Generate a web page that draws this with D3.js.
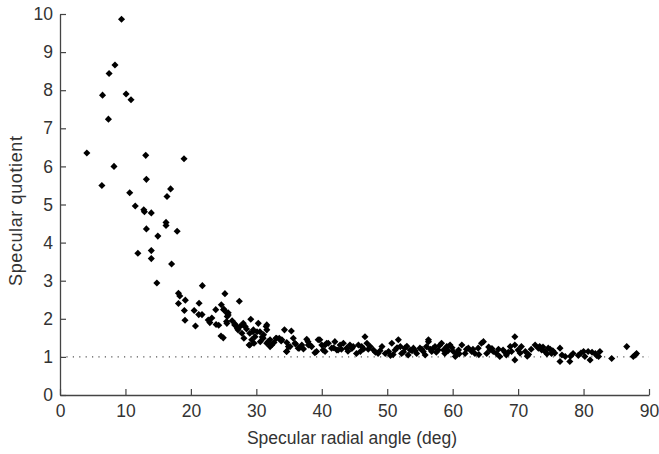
<!DOCTYPE html>
<html>
<head>
<meta charset="utf-8">
<script src="https://cdn.jsdelivr.net/npm/d3@7"></script>
<style>
  body { margin: 0; background: #fff; }
  text { font-family: "Liberation Sans", Arial, sans-serif; fill: #333; }
</style>
</head>
<body>
<svg id="chart"></svg>
<script>
// Data
var angle = [
  4.1, 6.4, 6.5, 7.4, 7.5, 8.25, 8.4, 9.4, 10.1, 10.85,
  13.1, 18.95, 13.2, 16.9, 10.65, 16.35, 11.5, 12.8, 12.9, 13.95,
  16.2, 16.2, 13.2, 17.9, 14.95, 13.95, 11.9, 13.95, 17.05, 14.8,
  21.75, 18.1, 18.3, 25.2, 19.15, 18.1, 21.25, 27.4, 24.65, 23.8,
  25.05, 25.7, 19.0, 20.5, 21.2, 21.7, 25.55, 19.1, 22.65, 22.9,
  23.85, 24.25, 20.7, 25.45, 24.6, 24.95, 26.75, 27.1, 27.5, 28.0,
  29.15, 28.5, 28.1, 29.0, 29.55, 29.8, 30.3, 30.55, 29.65, 28.9,
  31.5, 31.6, 31.05, 32.1, 31.6, 32.35, 33.0, 33.5, 34.3, 35.35,
  34.65, 34.65, 35.65, 35.9, 35.15, 36.55, 36.95, 37.7, 37.95, 38.45,
  38.95, 39.45, 40.0, 40.2, 40.75,
  25.0, 25.5, 25.7, 25.5, 26.7, 27.2, 28.0, 28.3, 29.5, 29.3,
  30.1, 30.6, 29.0, 31.6, 31.1, 31.8, 32.1, 33.1, 33.9, 34.9,
  34.6, 36.4, 37.9, 38.2, 39.2, 39.7, 40.5,
  40.5, 41.0, 41.5, 42.0, 42.3, 42.8, 43.3, 43.8, 44.3, 44.8,
  45.3, 45.6, 46.1, 46.6, 46.9, 47.4, 47.9, 48.6, 49.2, 49.7,
  50.2, 50.7, 51.2, 51.7, 52.0, 52.2, 52.7, 53.2, 53.5, 54.0,
  54.5, 55.0, 55.5, 56.0, 56.3,
  56.3, 56.8, 57.3, 57.8, 58.3, 58.8, 59.1, 59.6, 60.1, 60.4,
  60.9, 61.4, 61.9, 62.4, 62.9, 63.4, 63.9, 64.4, 64.7, 65.2,
  65.7, 66.2, 66.7, 67.2, 67.7, 68.2, 68.8, 69.0, 69.5, 69.5,
  70.0, 70.5, 69.5, 71.1,
  72.6, 73.1, 73.6, 74.1, 74.6, 75.1, 76.4, 76.7, 76.4, 77.2,
  77.9, 78.4, 80.0, 80.2, 80.7, 81.0, 81.8, 82.3, 82.5, 84.3,
  86.6, 87.6, 87.9, 88.1,
  41.8, 43.0, 44.0, 46.4, 48.2, 50.9, 53.8, 55.3, 57.0, 58.6,
  59.9, 61.0, 63.1, 66.0, 68.5, 71.6, 72.0, 73.3, 74.9, 75.6,
  79.2, 81.3, 37.2, 36.0, 33.8, 32.7, 30.9, 27.8, 26.3, 23.2,
  42.5, 44.6, 45.9, 47.1, 48.9, 50.5, 51.5, 52.5, 53.0, 54.3,
  55.8, 56.6, 57.5, 58.0, 58.9, 59.3, 60.6, 62.1, 64.0, 65.5,
  67.0, 68.0, 70.3, 71.4, 73.8, 74.4, 75.3, 78.0, 79.6, 82.0
];
var quotient = [
  6.35, 5.5, 7.87, 7.24, 8.44, 6.0, 8.66, 9.86, 7.9, 7.75,
  6.29, 6.2, 5.66, 5.41, 5.31, 5.21, 4.96, 4.86, 4.81, 4.78,
  4.53, 4.45, 4.36, 4.3, 4.17, 3.79, 3.72, 3.58, 3.44, 2.94,
  2.87, 2.67, 2.6, 2.66, 2.49, 2.4, 2.41, 2.46, 2.37, 2.24,
  2.25, 2.16, 2.22, 2.22, 2.11, 2.11, 2.06, 1.96, 1.97, 1.9,
  1.85, 1.83, 1.81, 1.93, 1.55, 1.5, 1.86, 1.75, 1.8, 1.84,
  1.99, 1.73, 1.49, 1.62, 1.71, 1.53, 1.88, 1.66, 1.36, 1.31,
  1.8, 1.71, 1.49, 1.45, 1.36, 1.31, 1.49, 1.49, 1.71, 1.68,
  1.38, 1.14, 1.49, 1.36, 1.27, 1.23, 1.31, 1.46, 1.31, 1.27,
  1.11, 1.45, 1.31, 1.18, 1.36,
  2.24, 2.15, 2.1, 1.88, 1.84, 1.71, 1.88, 1.8, 1.66, 1.45,
  1.66, 1.4, 1.31, 1.84, 1.58, 1.4, 1.27, 1.49, 1.45, 1.27,
  1.14, 1.23, 1.4, 1.31, 1.14, 1.45, 1.31,
  1.14, 1.36, 1.23, 1.4, 1.18, 1.31, 1.36, 1.23, 1.31, 1.27,
  1.09, 1.31, 1.27, 1.53, 1.36, 1.27, 1.18, 1.09, 1.27, 1.09,
  1.14, 1.36, 1.18, 1.45, 1.27, 1.09, 1.23, 1.05, 1.18, 1.23,
  1.09, 1.23, 1.14, 1.27, 1.45,
  1.4, 1.14, 1.27, 1.18, 1.36, 1.09, 1.27, 1.31, 1.14, 1.01,
  1.18, 1.31, 1.09, 1.23, 1.14, 1.09, 1.23, 1.36, 1.4, 1.09,
  1.18, 1.14, 1.09, 1.01, 1.18, 1.05, 1.27, 1.14, 1.53, 1.31,
  1.18, 1.27, 0.92, 1.14,
  1.31, 1.23, 1.18, 1.14, 1.23, 1.09, 1.23, 1.05, 0.88, 1.01,
  0.88, 1.09, 1.14, 1.01, 1.14, 0.92, 1.09, 1.01, 1.14, 0.96,
  1.27, 1.01, 1.05, 1.09,
  1.24, 1.2, 1.15, 1.21, 1.12, 1.06, 1.16, 1.2, 1.22, 1.18,
  1.24, 1.08, 1.2, 1.22, 1.12, 1.06, 1.2, 1.27, 1.2, 1.1,
  1.04, 1.12, 1.21, 1.34, 1.42, 1.38, 1.52, 1.62, 1.95, 2.02,
  1.18, 1.22, 1.14, 1.2, 1.16, 1.04, 1.24, 1.13, 1.28, 1.16,
  1.05, 1.2, 1.12, 1.3, 1.2, 1.16, 1.08, 1.2, 1.06, 1.26,
  1.2, 1.12, 1.1, 1.02, 1.26, 1.08, 1.16, 1.02, 1.1, 1.04
];
var xTicks = [0, 10, 20, 30, 40, 50, 60, 70, 80, 90];
var yTicks = [0, 1, 2, 3, 4, 5, 6, 7, 8, 9, 10];
var refLevel = [1];

var margin = { top: 14, right: 10, bottom: 59, left: 60 },
  width = 659 - margin.left - margin.right,
  height = 454 - margin.top - margin.bottom;
var axisColor = "#444";

var svg = d3.select("#chart").attr("width", 659).attr("height", 454);
var chart = svg.append("g")
  .attr("transform", "translate(" + margin.left + "," + margin.top + ")");

var xScale = d3.scaleLinear().domain([0, 90]).range([0, 589]);
var yScale = d3.scaleLinear().domain([0, 10]).range([381, 0]);

// Reference line at quotient = 1
chart.selectAll(".ref").data(refLevel).enter().append("line")
  .attr("x1", xScale(0)).attr("x2", xScale(90))
  .attr("y1", d => yScale(d)).attr("y2", d => yScale(d))
  .attr("stroke", "#555").attr("stroke-width", 1.2)
  .attr("stroke-dasharray", "1.2,5.2");

// Axes (ticks pointing inward, MATLAB style)
var xAxis = chart.append("g")
  .attr("transform", "translate(0," + yScale(0) + ")")
  .call(d3.axisBottom(xScale).tickValues(xTicks).tickSizeInner(-6).tickSizeOuter(0).tickPadding(10));
var yAxis = chart.append("g")
  .call(d3.axisLeft(yScale).tickValues(yTicks).tickSizeInner(-6).tickSizeOuter(0).tickPadding(8));

[xAxis, yAxis].forEach(function(a) {
  a.select(".domain").attr("stroke", axisColor).attr("stroke-width", 1.3);
  a.selectAll(".tick line").attr("stroke", axisColor).attr("stroke-width", 1.2);
  a.selectAll(".tick text").attr("fill", "#333")
    .style("font-size", "17.5px")
    .style("font-family", "'Liberation Sans', Arial, sans-serif");
});
yAxis.selectAll(".tick text").attr("x", -7);

// Scatter points as small diamonds
var pts = angle.map((a, i) => ({ a: a, q: quotient[i] }));
chart.selectAll(".pt").data(pts).enter().append("path")
  .attr("class", "pt")
  .attr("d", d3.symbol().type(d3.symbolSquare).size(25))
  .attr("transform", d => "translate(" + xScale(d.a) + "," + yScale(d.q) + ") rotate(45)")
  .attr("fill", "#000");

// Axis labels
svg.append("text")
  .attr("x", 352).attr("y", 444)
  .style("text-anchor", "middle")
  .style("font-size", "17.5px")
  .text("Specular radial angle (deg)");
svg.append("text")
  .attr("transform", "translate(22,211) rotate(-90)")
  .style("text-anchor", "middle")
  .style("font-size", "18px")
  .attr("textLength", 150)
  .text("Specular quotient");
</script>
</body>
</html>
